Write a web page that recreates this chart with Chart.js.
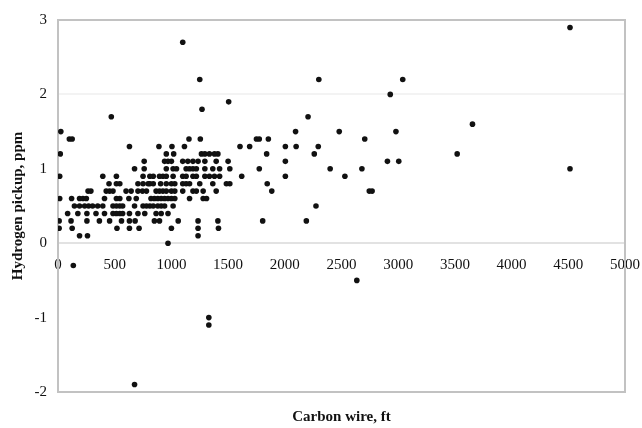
<!DOCTYPE html>
<html lang="en">
<head>
  <meta charset="UTF-8" />
  <title>Hydrogen pickup vs carbon wire</title>
  <script src="https://cdn.jsdelivr.net/npm/chart.js"></script>
  <style>
    body { margin: 0; background: #fff; }
    .chart-box { width: 642px; height: 428px; }
  </style>
</head>
<body>
  <div class="chart-box">
    <canvas id="pickupChart"></canvas>
  </div>

  <script>
    // hydrogen pickup (ppm) levels, and the carbon wire lengths (ft) measured at each level
    const pickupLevels = [2.9, 2.7, 2.2, 2.0, 1.9, 1.8, 1.7, 1.6, 1.5, 1.4, 1.3, 1.2, 1.1, 1.0,
      0.9, 0.8, 0.7, 0.6, 0.5, 0.4, 0.3, 0.2, 0.1, 0, -0.3, -0.5, -1.0, -1.1, -1.9];
    const wireAtLevel = [
      [4515],
      [1100],
      [1250, 2300, 3040],
      [2930],
      [1505],
      [1270],
      [470, 2205],
      [3655],
      [25, 2095, 2480, 2980],
      [100, 125, 1155, 1255, 1750, 1775, 1855, 2705],
      [630, 890, 1005, 1115, 1605, 1690, 2005, 2100, 2295],
      [20, 955, 1020, 1265, 1295, 1335, 1380, 1410, 1840, 2260, 3520],
      [760, 940, 970, 1000, 1100, 1145, 1190, 1235, 1295, 1395, 1500, 2005, 2905, 3005],
      [675, 760, 955, 1015, 1045, 1130, 1160, 1190, 1220, 1295, 1365, 1425, 1515, 1775, 2400, 2680, 4515],
      [15, 395, 515, 750, 810, 840, 895, 925, 955, 1015, 1100, 1130, 1190, 1220, 1295, 1335, 1380, 1425, 1620, 2005, 2530],
      [450, 515, 545, 705, 750, 795, 810, 840, 905, 955, 1000, 1030, 1100, 1130, 1160, 1250, 1365, 1485, 1515, 1845],
      [265, 290, 425, 455, 485, 600, 645, 705, 745, 780, 865, 895, 925, 955, 1000, 1030, 1100, 1190, 1220, 1280, 1395, 1885, 2745, 2770],
      [15, 120, 190, 220, 250, 410, 515, 545, 625, 690, 820, 850, 880, 910, 940, 970, 1000, 1030, 1160, 1280, 1310],
      [145, 190, 235, 270, 305, 350, 395, 485, 515, 545, 570, 675, 750, 780, 810, 840, 880, 910, 940, 1015, 2275],
      [85, 175, 255, 335, 410, 485, 515, 545, 570, 630, 705, 765, 865, 910, 970],
      [10, 115, 255, 365, 455, 560, 630, 680, 850, 895, 1060, 1235, 1410, 1805, 2190],
      [10, 125, 520, 630, 715, 1000, 1235, 1415],
      [190, 260, 1235],
      [970],
      [135],
      [2635],
      [1330],
      [1330],
      [675]
    ];

    const xTicks = { min: 0, max: 5000, step: 500 };
    const yTicks = { min: -2, max: 3, step: 1 };

    const points = pickupLevels.flatMap((level, i) =>
      wireAtLevel[i].map(ft => ({ x: ft, y: level }))
    );

    Chart.defaults.font.family = '"Liberation Serif", "Times New Roman", serif';
    Chart.defaults.color = '#111';

    // grey box round the plot area
    const plotFrame = {
      id: 'plotFrame',
      beforeDatasetsDraw(chart) {
        const { ctx, chartArea: a } = chart;
        ctx.save();
        ctx.strokeStyle = '#c2c2c2';
        ctx.lineWidth = 2;
        ctx.strokeRect(a.left, a.top, a.right - a.left, a.bottom - a.top);
        ctx.restore();
      }
    };

    new Chart(document.getElementById('pickupChart'), {
      type: 'scatter',
      data: {
        datasets: [{
          data: points,
          backgroundColor: '#111',
          borderWidth: 0,
          pointRadius: 2.8
        }]
      },
      options: {
        responsive: true,
        maintainAspectRatio: false,
        animation: false,
        layout: { padding: { top: 18, right: 17, left: 0, bottom: 0 } },
        plugins: {
          legend: { display: false },
          tooltip: { enabled: false },
          title: {
            display: true,
            position: 'bottom',
            fullSize: false,
            text: 'Carbon wire, ft',
            font: { size: 15, weight: 'bold' },
            padding: { top: 16, bottom: 2 }
          }
        },
        scales: {
          x: {
            type: 'linear',
            position: { y: 0 },
            min: xTicks.min,
            max: xTicks.max,
            // end labels may spill past the frame, like the y labels do
            afterFit(scale) {
              scale.paddingLeft = 0;
              scale.paddingRight = 0;
            },
            grid: { display: false, drawTicks: false },
            border: { display: false },
            ticks: {
              stepSize: xTicks.step,
              padding: 13,
              maxRotation: 0,
              autoSkip: false,
              font: { size: 15 },
              callback: v => String(v)
            }
          },
          y: {
            min: yTicks.min,
            max: yTicks.max,
            afterFit(scale) { scale.width = 58; },
            grid: {
              drawTicks: false,
              lineWidth: 2,
              color: c => c.tick.value === 0 ? '#e2e2e2' : (c.tick.value === 2 ? '#f3f3f3' : 'transparent')
            },
            border: { display: false },
            ticks: {
              stepSize: yTicks.step,
              padding: 11,
              font: { size: 15 }
            },
            title: {
              display: true,
              text: 'Hydrogen pickup, ppm',
              font: { size: 15, weight: 'bold' },
              padding: { top: 9, bottom: 0 }
            }
          }
        }
      },
      plugins: [plotFrame]
    });
  </script>
</body>
</html>
